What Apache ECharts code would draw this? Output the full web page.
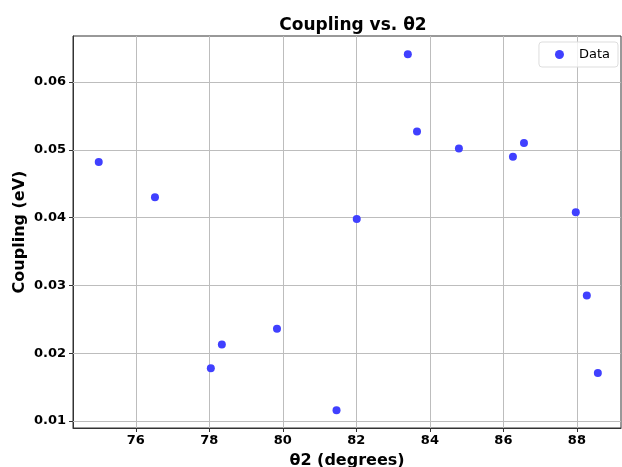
<!DOCTYPE html>
<html>
<head>
<meta charset="utf-8">
<script src="https://cdn.jsdelivr.net/npm/echarts@6/dist/echarts.min.js"></script>
<style>
  html, body { margin: 0; padding: 0; background: #fff; }
  #chart { width: 622px; height: 467px; }
</style>
</head>
<body>
<div id="chart"></div>
<script>
// values
const theta2 = [74.99, 76.52, 78.04, 78.34, 79.84, 81.46, 82.01, 83.40, 83.65, 84.79, 86.26, 86.56, 87.97, 88.27, 88.57];
const coupling = [0.0482, 0.0430, 0.0178, 0.0213, 0.0236, 0.0116, 0.0398, 0.0641, 0.0527, 0.0502, 0.0490, 0.0510, 0.0408, 0.0285, 0.0171];
const xTicks = [76, 78, 80, 82, 84, 86, 88];
const yTicks = [0.01, 0.02, 0.03, 0.04, 0.05, 0.06];

const font = 'DejaVu Sans';
const chart = echarts.init(document.getElementById('chart'));

chart.setOption({
  animation: false,
  title: {
    text: 'Coupling vs. θ2',
    left: 348, top: 12, textAlign: 'center',
    textStyle: { fontFamily: font, fontSize: 17, fontWeight: 'bold', color: '#000' }
  },
  legend: {
    right: 4, top: 42,
    data: ['Data'],
    icon: 'circle', itemWidth: 9, itemHeight: 9, itemGap: 6,
    padding: [6, 8, 6, 16],
    borderColor: '#ddd', borderWidth: 1, borderRadius: 3,
    backgroundColor: 'rgba(255,255,255,0.8)',
    textStyle: { fontFamily: font, fontSize: 13, color: '#000', padding: [0, 0, 0, 10] }
  },
  grid: {
    left: 73, right: 1, top: 36, bottom: 39,
    outerBoundsMode: 'none', containLabel: false,
    show: true, borderColor: '#333', borderWidth: 1
  },
  xAxis: {
    type: 'value', min: 74.29, max: 89.2,
    name: 'θ2 (degrees)', nameLocation: 'middle', nameGap: 25,
    nameTextStyle: { fontFamily: font, fontSize: 16, fontWeight: 'bold', color: '#000' },
    axisLine: { lineStyle: { color: '#333' } },
    axisTick: { customValues: xTicks, length: 4, lineStyle: { color: '#333' } },
    axisLabel: { customValues: xTicks, fontFamily: font, fontSize: 13, fontWeight: 'bold', color: '#000', margin: 6 },
    splitLine: { show: false }
  },
  yAxis: {
    type: 'value', min: 0.00897, max: 0.0668,
    name: 'Coupling (eV)', nameLocation: 'middle', nameGap: 45, nameMoveOverlap: false,
    nameTextStyle: { fontFamily: font, fontSize: 16, fontWeight: 'bold', color: '#000' },
    axisLine: { show: true, lineStyle: { color: '#333' } },
    axisTick: { show: true, customValues: yTicks, length: 4, lineStyle: { color: '#333' } },
    axisLabel: { customValues: yTicks, fontFamily: font, fontSize: 13, fontWeight: 'bold', color: '#000', margin: 7,
      formatter: v => v.toFixed(2) },
    splitLine: { show: false }
  },
  series: [{
    name: 'Data',
    type: 'scatter',
    symbolSize: 8,
    itemStyle: { color: '#4040ff', opacity: 1 },
    data: theta2.map((x, i) => [x, coupling[i]]),
    z: 3,
    markLine: {
      silent: true, symbol: 'none', label: { show: false },
      lineStyle: { color: '#bdbdbd', width: 1, type: 'solid' },
      data: xTicks.map(v => ({ xAxis: v })).concat(yTicks.map(v => ({ yAxis: v }))),
      z: 1
    }
  }]
});
</script>
</body>
</html>
